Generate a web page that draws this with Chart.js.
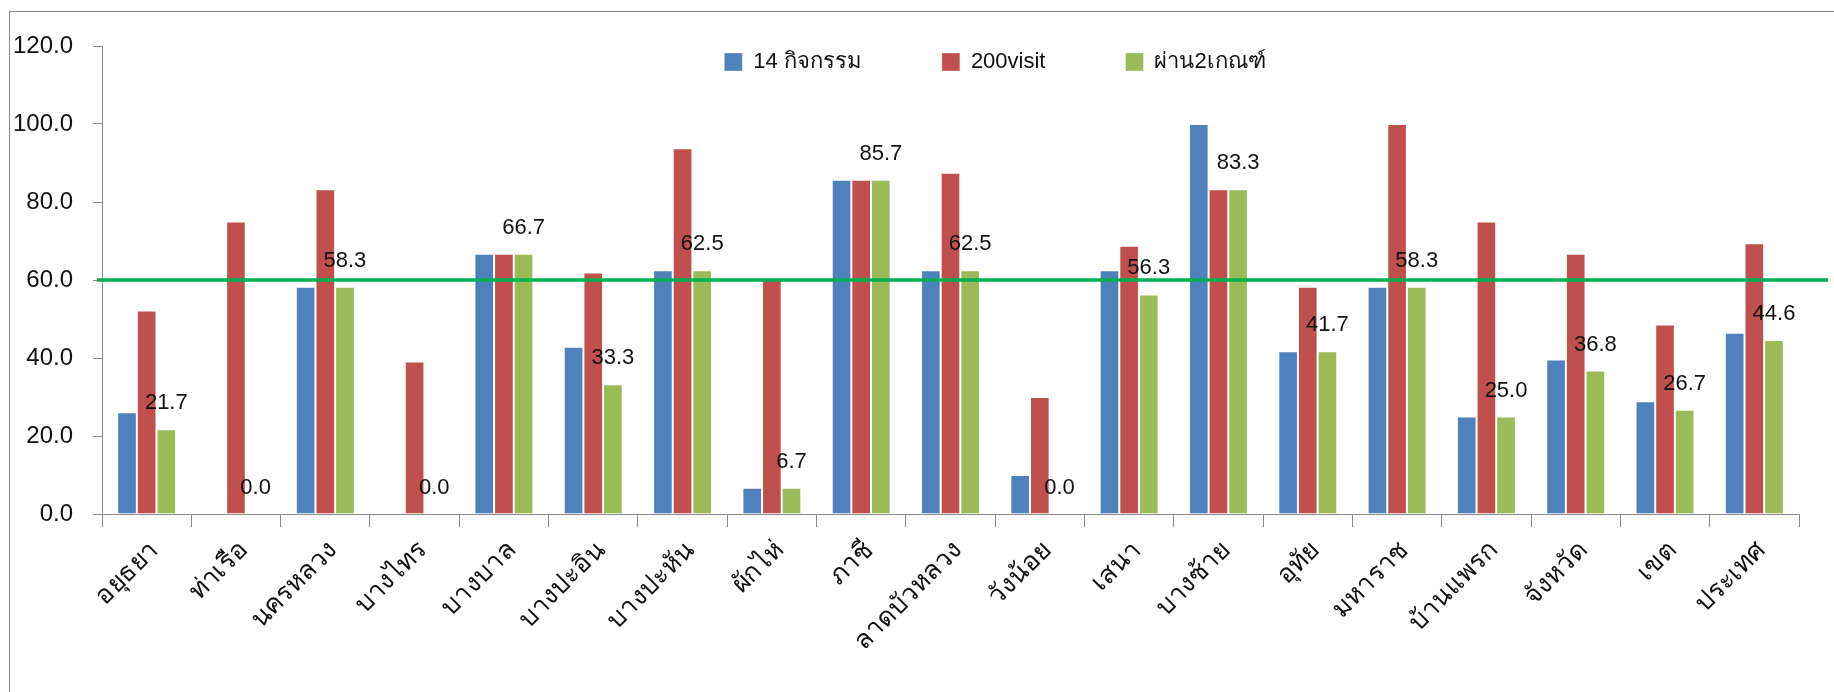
<!DOCTYPE html>
<html>
<head>
<meta charset="utf-8">
<script src="https://cdn.jsdelivr.net/npm/chart.js@4/dist/chart.umd.min.js"></script>
<style>
  html, body { margin: 0; padding: 0; background: #ffffff; }
  #wrap { position: relative; width: 1834px; height: 692px; }
</style>
</head>
<body>
<div id="wrap"><canvas id="chart" width="1834" height="692"></canvas></div>
<script>
// District names along the x axis
const categories = ['อยุธยา', 'ท่าเรือ', 'นครหลวง', 'บางไทร', 'บางบาล', 'บางปะอิน', 'บางปะหัน', 'ผักไห่', 'ภาชี',
  'ลาดบัวหลวง', 'วังน้อย', 'เสนา', 'บางซ้าย', 'อุทัย', 'มหาราช', 'บ้านแพรก', 'จังหวัด', 'เขต', 'ประเทศ'];

// Percentages per district
const activities14 = [26.1, 0.0, 58.3, 0.0, 66.7, 42.9, 62.5, 6.7, 85.7, 62.5, 10.0, 62.5, 100.0, 41.7, 58.3, 25.0, 39.6, 28.9, 46.5];
const visit200     = [52.2, 75.0, 83.3, 39.1, 66.7, 61.9, 93.8, 60.0, 85.7, 87.5, 30.0, 68.8, 83.3, 58.3, 100.0, 75.0, 66.7, 48.6, 69.4];
const passBoth     = [21.7, 0.0, 58.3, 0.0, 66.7, 33.3, 62.5, 6.7, 85.7, 62.5, 0.0, 56.3, 83.3, 41.7, 58.3, 25.0, 36.8, 26.7, 44.6];

const seriesNames = ['14 กิจกรรม', '200visit', 'ผ่าน2เกณฑ์'];
const yTickValues = [0, 20, 40, 60, 80, 100, 120];
const targetValue = 60;

const FONT = "'Liberation Sans', 'DejaVu Sans', sans-serif";
const AXIS_GRAY = '#8c8c8c';

// Outer frame of the chart object
const framePlugin = {
  id: 'frame',
  beforeDraw(chart) {
    const ctx = chart.ctx;
    ctx.save();
    ctx.strokeStyle = AXIS_GRAY;
    ctx.lineWidth = 1;
    ctx.strokeRect(9.5, 11.5, chart.width + 20, chart.height + 20);
    ctx.restore();
  }
};

// Legend lies in one row inside the plot, a little right of centre
const legendPlacePlugin = {
  id: 'legendPlace',
  afterInit(chart) {
    if (chart.legend) chart.legend.isHorizontal = () => true;
  },
  afterUpdate(chart) {
    const lg = chart.legend;
    if (!lg) return;
    const dx = 995 - (lg.left + lg.right) / 2;
    const pad = lg.options.labels.padding;
    const dy = (chart.chartArea.top + 7 - pad - 2) - lg.top;
    lg.left += dx; lg.right += dx;
    lg.top += dy; lg.bottom += dy;
  }
};

// Horizontal target line at 60
const targetLinePlugin = {
  id: 'targetLine',
  afterDatasetsDraw(chart) {
    const { ctx, chartArea, scales } = chart;
    const y = scales.y.getPixelForValue(targetValue);
    ctx.save();
    ctx.strokeStyle = '#00b050';
    ctx.lineWidth = 3.5;
    ctx.beginPath();
    ctx.moveTo(chartArea.left - 5, y);
    ctx.lineTo(chartArea.right + 29, y);
    ctx.stroke();
    ctx.restore();
  }
};

// Value labels above the third series
const valueLabelPlugin = {
  id: 'valueLabels',
  afterDraw(chart) {
    const ctx = chart.ctx;
    const meta = chart.getDatasetMeta(2);
    ctx.save();
    ctx.font = '22px ' + FONT;
    ctx.fillStyle = '#111111';
    ctx.textAlign = 'center';
    ctx.textBaseline = 'middle';
    meta.data.forEach((bar, i) => {
      ctx.fillText(passBoth[i].toFixed(1), bar.x, bar.y - 26);
    });
    ctx.restore();
  }
};

const barBorder = 'rgba(255,255,255,0.35)';

new Chart(document.getElementById('chart'), {
  type: 'bar',
  data: {
    labels: categories,
    datasets: [
      { label: seriesNames[0], data: activities14, backgroundColor: '#4f81bd', borderColor: barBorder, borderWidth: 1 },
      { label: seriesNames[1], data: visit200, backgroundColor: '#c0504d', borderColor: barBorder, borderWidth: 1 },
      { label: seriesNames[2], data: passBoth, backgroundColor: '#9bbb59', borderColor: barBorder, borderWidth: 1 }
    ]
  },
  options: {
    responsive: false,
    animation: false,
    devicePixelRatio: 1,
    layout: { padding: { left: 12, right: 35, top: 46, bottom: 0 } },
    datasets: { bar: { categoryPercentage: 0.66, barPercentage: 1.0 } },
    plugins: {
      legend: {
        position: 'chartArea',
        align: 'center',
        labels: {
          boxWidth: 18,
          boxHeight: 18,
          padding: 80,
          color: '#111111',
          font: { family: FONT, size: 22 }
        }
      },
      tooltip: { enabled: false },
      title: { display: false }
    },
    scales: {
      x: {
        grid: {
          offset: true,
          drawOnChartArea: false,
          drawTicks: true,
          tickLength: 13,
          color: AXIS_GRAY,
          lineWidth: 1
        },
        border: { display: true, color: AXIS_GRAY, width: 1 },
        ticks: {
          autoSkip: false,
          maxRotation: 45,
          minRotation: 45,
          padding: 8,
          labelOffset: 8,
          color: '#111111',
          font: { family: FONT, size: 26 }
        },
        afterFit(scale) { scale.height = 178; }
      },
      y: {
        min: 0,
        max: 120,
        grid: {
          drawOnChartArea: false,
          drawTicks: true,
          tickLength: 9,
          color: AXIS_GRAY,
          lineWidth: 1
        },
        border: { display: true, color: AXIS_GRAY, width: 1 },
        afterBuildTicks(scale) { scale.ticks = yTickValues.map(v => ({ value: v })); },
        ticks: {
          padding: 20,
          color: '#111111',
          font: { family: FONT, size: 24 },
          callback: (v) => Number(v).toFixed(1)
        },
        afterFit(scale) { scale.width = 90; }
      }
    }
  },
  plugins: [framePlugin, legendPlacePlugin, targetLinePlugin, valueLabelPlugin]
});
</script>
</body>
</html>
